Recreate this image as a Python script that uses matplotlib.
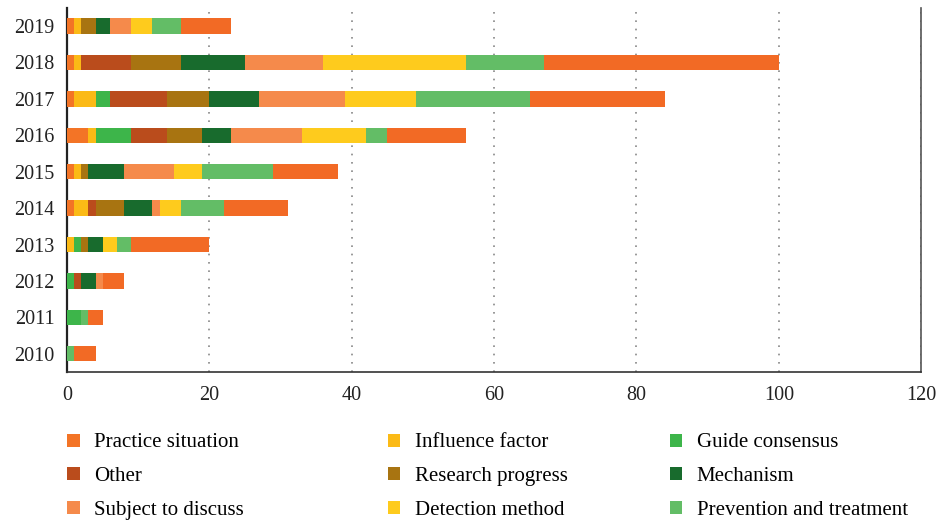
import numpy as np
import matplotlib
matplotlib.use('Agg')
import matplotlib.pyplot as plt
from matplotlib.patches import Patch

plt.rcParams['font.family'] = ['Liberation Serif', 'DejaVu Serif']

years = ['2019', '2018', '2017', '2016', '2015', '2014', '2013', '2012', '2011', '2010']

# counts per year, stacked left to right in this order
practice_situation = [1, 1, 1, 3, 1, 1, 0, 0, 0, 0]
influence_factor = [1, 1, 3, 1, 1, 2, 1, 0, 0, 0]
guide_consensus = [0, 0, 2, 5, 0, 0, 1, 1, 2, 0]
other = [0, 7, 8, 5, 0, 1, 0, 1, 0, 0]
research_progress = [2, 7, 6, 5, 1, 4, 1, 0, 0, 0]
mechanism = [2, 9, 7, 4, 5, 4, 2, 2, 0, 0]
subject_to_discuss = [3, 11, 12, 10, 7, 1, 0, 1, 0, 0]
detection_method = [3, 20, 10, 9, 4, 3, 2, 0, 0, 0]
prevention_treatment = [4, 11, 16, 3, 10, 6, 2, 0, 1, 1]
remaining = [7, 33, 19, 11, 9, 9, 11, 3, 2, 3]

series = [
    ('Practice situation', practice_situation, '#F37426'),
    ('Influence factor', influence_factor, '#FBBA16'),
    ('Guide consensus', guide_consensus, '#3DB54A'),
    ('Other', other, '#BA4C1C'),
    ('Research progress', research_progress, '#A87411'),
    ('Mechanism', mechanism, '#186B2D'),
    ('Subject to discuss', subject_to_discuss, '#F58A4B'),
    ('Detection method', detection_method, '#FECB1D'),
    ('Prevention and treatment', prevention_treatment, '#63BD66'),
    ('_remaining', remaining, '#F26A25'),
]

fig = plt.figure(figsize=(9.39, 5.21), dpi=100)
ax = fig.add_axes([0.0714, 0.286, 0.9096, 0.699])

y = np.arange(len(years))
left = np.zeros(len(years))
for name, vals, color in series:
    ax.barh(y, vals, left=left, height=0.42, color=color, label=name, zorder=3)
    left += np.array(vals)

ax.set_ylim(len(years) - 0.5, -0.5)
ax.set_yticks(y)
ax.set_yticklabels(years)
ax.set_xlim(0, 120)
ax.set_xticks(np.arange(0, 121, 20))
ax.tick_params(axis='both', length=0, labelsize=14.5, colors='#222222')
ax.tick_params(axis='x', pad=10)
ax.tick_params(axis='y', pad=9)

ax.grid(axis='x', linestyle=(0, (1, 4)), color='#888888', linewidth=1.2, zorder=0)
ax.spines['top'].set_visible(False)
ax.spines['left'].set_color('#222222')
ax.spines['left'].set_linewidth(1.6)
ax.spines['bottom'].set_color('#333333')
ax.spines['bottom'].set_linewidth(1.2)
ax.spines['right'].set_color('#555555')
ax.spines['right'].set_linewidth(1.2)

# legend in three columns, placed separately
col_x = [0.0715, 0.413, 0.713]
for c in range(3):
    handles = []
    for r in range(3):
        name, vals, color = series[r * 3 + c]
        handles.append(Patch(facecolor=color, edgecolor='none', label=name))
    fig.legend(handles=handles, loc='upper left', bbox_to_anchor=(col_x[c], 0.168),
               frameon=False, fontsize=15, handlelength=0.6, handleheight=0.6,
               handletextpad=0.7, labelspacing=0.7, borderaxespad=0, borderpad=0)

fig.savefig('out.png', dpi=100)
